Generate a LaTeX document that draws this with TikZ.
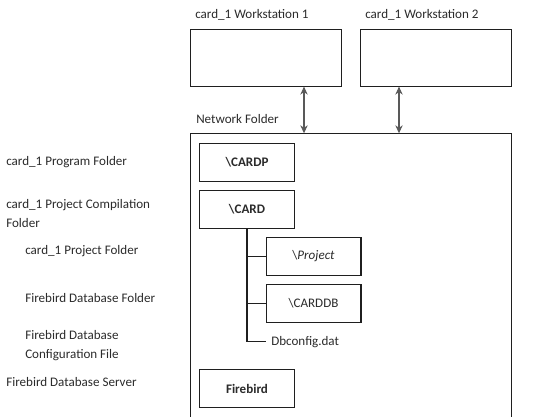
\documentclass[tikz,border=0pt]{standalone}
\usepackage{fontspec}
\setmainfont{Carlito}
\usepackage{tikz}
\usetikzlibrary{arrows.meta,positioning,calc}
\definecolor{ink}     {HTML}{1F1F1F}
\definecolor{inktext} {HTML}{2B2B2B}
\definecolor{arrgray} {HTML}{595959}
\tikzset{
  wsbox/.style    ={draw=ink, fill=white, line width=0.8pt,
                    minimum width=113.4pt, minimum height=42.4pt, inner sep=0pt},
  fbox/.style     ={draw=ink, fill=white, line width=0.8pt,
                    minimum width=71.2pt, minimum height=28.8pt,
                    align=center, font=\fontsize{9.8}{11}\selectfont, text=inktext},
  lbl/.style      ={anchor=west, inner sep=0pt, align=left, text=inktext,
                    font=\fontsize{9.8}{14.3}\selectfont},
  arr/.style      ={{Stealth[length=6pt,width=5.5pt]}-{Stealth[length=6pt,width=5.5pt]},
                    line width=0.8pt, color=arrgray},
  tree/.style     ={draw=ink, line width=0.8pt},
}
\begin{document}
\begin{tikzpicture}[x=0.75pt,y=-0.75pt]
  \useasboundingbox (0,0) rectangle (550,417);

  % workstations
  \node[wsbox] (ws1) at (266.1,57.8) {};
  \node[wsbox] (ws2) at (436.0,57.8) {};
  \node[lbl] (ws1lbl) at (195,15) {card\_1 Workstation 1};
  \node[lbl] (ws2lbl) at (365,15) {card\_1 Workstation 2};

  % network folder (bottom edge lies beyond the picture)
  \draw[tree] (190.5,420) |- (511.7,133.3) -- (511.7,420);
  \coordinate (net1) at (304,133.3);
  \coordinate (net2) at (399,133.3);
  \node[lbl] (netlbl) at (196,119) {Network Folder};

  \draw[arr] (ws1.south -| net1) -- (net1);
  \draw[arr] (ws2.south -| net2) -- (net2);

  % folders
  \node[fbox] (cardp)  at (247,162.5) {\bfseries\textbackslash CARDP};
  \node[fbox] (card)   at (247,209.5) {\bfseries\textbackslash CARD};
  \node[fbox] (proj)   at (313.5,256.5) {\textbackslash\textit{Project}};
  \node[fbox] (carddb) at (313.5,303.5) {\textbackslash CARDDB};
  \node[lbl]  (dbcfg)  at (271,341.7) {Dbconfig.dat};
  \node[fbox] (fbird)  at (247,388.5) {\bfseries Firebird};

  \draw[tree] (card.south) |- (proj.west);
  \draw[tree] (card.south) |- (carddb.west);
  \draw[tree] (card.south) |- ($(dbcfg.west)+(-5,0)$);

  % captions on the left
  \node[lbl] (progl)  at (6,162)   {card\_1 Program Folder};
  \node[lbl] (compl)  at (6,213.5) {card\_1 Project Compilation\\Folder};
  \node[lbl] (projl)  at (25,251)  {card\_1 Project Folder};
  \node[lbl] (dbfl)   at (25,298)  {Firebird Database Folder};
  \node[lbl] (cfgl)   at (25,346)  {Firebird Database\\Configuration File};
  \node[lbl] (srvl)   at (6,382)   {Firebird Database Server};
\end{tikzpicture}
\end{document}
